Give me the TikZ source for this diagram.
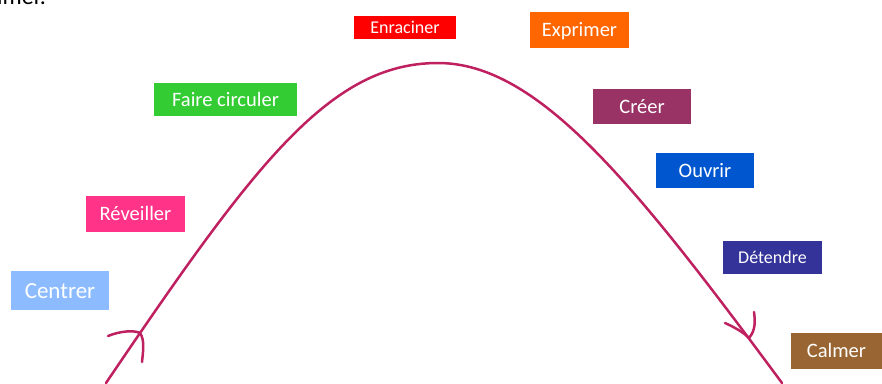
\documentclass[tikz,border=0pt]{standalone}
\usepackage{fontspec}
\setmainfont{Carlito}
\definecolor{arc}{RGB}{190,32,96}
\definecolor{cRed}{RGB}{255,0,0}
\definecolor{cOrange}{RGB}{255,102,0}
\definecolor{cGreen}{RGB}{51,204,51}
\definecolor{cPlum}{RGB}{153,51,102}
\definecolor{cBlue}{RGB}{0,86,206}
\definecolor{cPink}{RGB}{255,51,136}
\definecolor{cIndigo}{RGB}{51,51,153}
\definecolor{cSky}{RGB}{140,188,255}
\definecolor{cBrown}{RGB}{153,102,51}
\tikzset{
  stage/.style={rectangle, inner sep=0pt, text=white, text height=13.5pt, text depth=0pt,
    font=\fontsize{20.5}{24}\selectfont},
  small stage/.style={stage, text height=12pt, font=\fontsize{18}{22}\selectfont},
  large stage/.style={stage, text height=15pt, font=\fontsize{23}{27}\selectfont},
  curveline/.style={draw=arc, line width=2.5pt, line cap=round, line join=round},
}
\begin{document}
\begin{tikzpicture}[x=1pt,y=-1pt]
\useasboundingbox (0,0) rectangle (882,383);

% tail of the sentence above the figure
\begin{scope}
  \clip (0,0) rectangle (882,383);
  \node[anchor=base west, inner sep=0pt, font=\fontsize{24}{28}\selectfont] (tail) at (-3,4) {lmer.};
\end{scope}

% the arc of the sequence
\coordinate (start) at (106,383);
\coordinate (top) at (438,63);
\coordinate (end) at (782,383);
\draw[curveline] (start) .. controls (255,163) and (330,63) .. (top)
  .. controls (538,63) and (634,183) .. (end);

% direction marks on both sides
\coordinate (tipL) at (140,333);
\coordinate (tipR) at (749,338);
\draw[curveline] (108,336) .. controls (120,331) and (134,330) .. (tipL)
  .. controls (145,340) and (143,352) .. (142,362);
\draw[curveline] (725,323) .. controls (734,327) and (743,332) .. (tipR)
  .. controls (756,330) and (755,320) .. (754,312);

% stages
\node[small stage, fill=cRed, minimum width=102pt, minimum height=23pt] (enraciner) at (405,27.5) {Enraciner};
\node[stage, fill=cOrange, minimum width=99pt, minimum height=36pt] (exprimer) at (579.5,30) {Exprimer};
\node[stage, fill=cGreen, minimum width=143pt, minimum height=33pt] (circuler) at (225.5,99.5) {Faire circuler};
\node[stage, fill=cPlum, minimum width=98pt, minimum height=35pt] (creer) at (642,106.5) {Créer};
\node[stage, fill=cBlue, minimum width=98pt, minimum height=35pt] (ouvrir) at (705,170.5) {Ouvrir};
\node[stage, fill=cPink, minimum width=99pt, minimum height=36pt] (reveiller) at (135.5,214) {Réveiller};
\node[small stage, fill=cIndigo, minimum width=99pt, minimum height=33pt] (detendre) at (772.5,257.5) {Détendre};
\node[large stage, fill=cSky, minimum width=98pt, minimum height=39pt] (centrer) at (60,290.5) {Centrer};
\node[stage, fill=cBrown, minimum width=91pt, minimum height=36pt] (calmer) at (836.5,351) {Calmer};
\end{tikzpicture}
\end{document}
